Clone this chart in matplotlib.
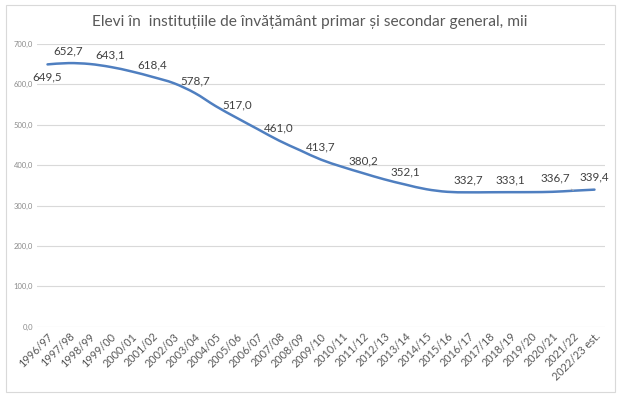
import numpy as np
from matplotlib import pyplot as plt
from matplotlib.path import Path
from matplotlib.patches import PathPatch, Rectangle

plt.rcParams['font.family'] = ['Lato', 'DejaVu Sans']

years = ['1996/97', '1997/98', '1998/99', '1999/00', '2000/01', '2001/02', '2002/03',
         '2003/04', '2004/05', '2005/06', '2006/07', '2007/08', '2008/09', '2009/10',
         '2010/11', '2011/12', '2012/13', '2013/14', '2014/15', '2015/16', '2016/17',
         '2017/18', '2018/19', '2019/20', '2020/21', '2021/22', '2022/23 est.']
pupils = [649.5, 652.7, 650.5, 643.1, 632.0, 618.4, 603.0, 578.7, 546.0, 517.0, 489.0,
          461.0, 437.0, 413.7, 396.0, 380.2, 365.0, 352.1, 340.5, 334.0, 332.7, 332.9,
          333.1, 333.2, 334.0, 336.7, 339.4]
labelled = [0, 1, 3, 5, 7, 9, 11, 13, 15, 17, 20, 22, 25, 26]
y_ticks = [0, 100, 200, 300, 400, 500, 600, 700]

title = 'Elevi în  instituțiile de învățământ primar și secondar general, mii'
line_color = '#4f7fc0'
text_color = '#404040'


def smooth_path(xs, ys):
    # bezier curve through the points, roughly like excel's smoothed line
    pts = np.column_stack([xs, ys])
    n = len(pts)
    verts = [pts[0]]
    codes = [Path.MOVETO]
    for i in range(n - 1):
        p0 = pts[max(i - 1, 0)]
        p1 = pts[i]
        p2 = pts[i + 1]
        p3 = pts[min(i + 2, n - 1)]
        c1 = p1 + (p2 - p0) / 6
        c2 = p2 - (p3 - p1) / 6
        verts += [c1, c2, p2]
        codes += [Path.CURVE4] * 3
    return Path(verts, codes)


fig = plt.figure(figsize=(6.2, 3.98), dpi=100)
fig.patches.append(Rectangle((0.009, 0.015), 0.983, 0.972, transform=fig.transFigure,
                             fill=False, edgecolor='#d9d9d9', lw=0.8))

ax = fig.add_axes([37 / 620, 71.3 / 398, 568 / 620, 282.7 / 398])
x = np.arange(len(years))

ax.add_patch(PathPatch(smooth_path(x, pupils), fill=False, edgecolor=line_color,
                       lw=1.8, capstyle='round'))

for i in labelled:
    txt = f'{pupils[i]:.1f}'.replace('.', ',')
    if i == 0:
        ax.annotate(txt, (x[i], pupils[i]), xytext=(0, -9), textcoords='offset points',
                    ha='center', va='center', fontsize=8.4, color=text_color)
    elif i == 25:
        ax.annotate(txt, (x[i], pupils[i]), xytext=(-13, 9.5), textcoords='offset points',
                    ha='center', va='center', fontsize=8.4, color=text_color,
                    arrowprops=dict(arrowstyle='-', color='#a6a6a6', lw=0.6,
                                    shrinkA=4, shrinkB=0))
    else:
        ax.annotate(txt, (x[i], pupils[i]), xytext=(0, 9), textcoords='offset points',
                    ha='center', va='center', fontsize=8.4, color=text_color)

ax.set_xlim(-0.5, len(years) - 0.5)
ax.set_ylim(0, 700)
ax.set_yticks(y_ticks)
ax.set_yticklabels([f'{v:.1f}'.replace('.', ',') for v in y_ticks], fontsize=5.5,
                   color='#8c8c8c')
ax.set_xticks(x)
ax.set_xticklabels(years, rotation=45, ha='right', rotation_mode='anchor',
                   fontsize=7.8, color='#595959')
ax.tick_params(length=0, pad=3)
ax.grid(axis='y', color='#d9d9d9', lw=0.8)
ax.set_axisbelow(True)
for s in ax.spines.values():
    s.set_visible(False)

fig.text(0.5, 0.945, title, ha='center', va='center', fontsize=11.2, color='#595959')

fig.savefig('out.png', dpi=100)
